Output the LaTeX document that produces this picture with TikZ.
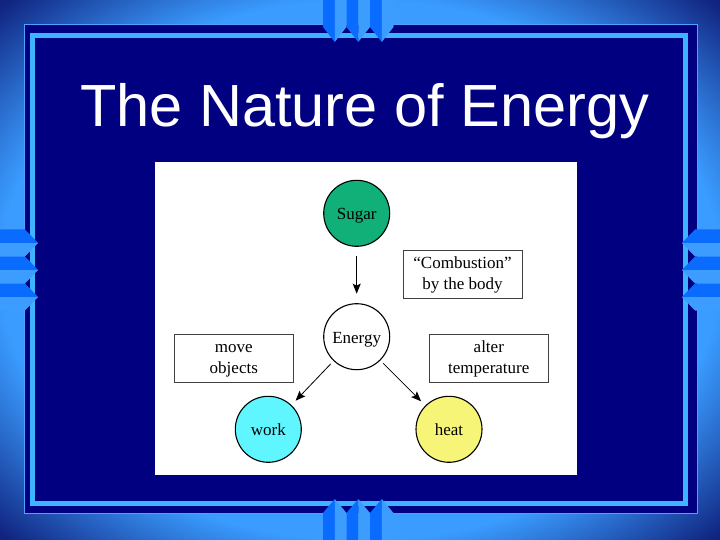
\documentclass[tikz,border=0pt]{standalone}
\usepackage{fontspec}
\setmainfont{Liberation Serif}
\newfontfamily\titlefont{Liberation Sans}
\usepackage{tikz}
\usetikzlibrary{arrows.meta}

\definecolor{bgLight}{RGB}{58,156,255}
\definecolor{bgDark}{RGB}{16,35,127}
\definecolor{navy}{RGB}{0,0,128}
\definecolor{rimLight}{RGB}{80,160,255}
\definecolor{rimCyan}{RGB}{60,180,255}
\definecolor{stripDark}{RGB}{10,108,255}
\definecolor{stripLight}{RGB}{61,157,255}
\definecolor{sugarGreen}{RGB}{16,176,120}
\definecolor{workCyan}{RGB}{96,246,255}
\definecolor{heatYellow}{RGB}{247,245,120}
\pgfdeclareradialshading{slidebg}{\pgfpoint{0bp}{0bp}}{color(0bp)=(bgLight); color(25bp)=(bgLight); color(35bp)=(bgDark); color(50bp)=(bgDark)}
\newcommand{\tstrut}{\rule{0pt}{13pt}}

\begin{document}
\begin{tikzpicture}[x=1pt,y=-1pt,
  circ/.style={circle,draw,line width=1.1pt,minimum size=66pt,inner sep=0pt,
    text height=13pt,text depth=0pt,font=\fontsize{17}{21}\selectfont},
  box/.style={draw=black!75,line width=0.9pt,align=center,minimum width=119pt,
    minimum height=48pt,inner sep=2pt,font=\fontsize{17}{21}\selectfont},
  arr/.style={-{Stealth[length=10pt,width=8pt,inset=2pt]},line width=0.8pt}]
\useasboundingbox (0,0) rectangle (720,540);
% slide frame
\shade[shading=slidebg] (0,0) rectangle (720,540);
\filldraw[fill=navy,draw=rimLight,line width=1pt] (24,25) rectangle (697,513);
\draw[rimCyan,line width=4.5pt] (32.5,35.5) rectangle (685.5,503.5);
\foreach \sx in {323,346.5,370} {
  \fill[stripDark] (\sx,0) -- ({\sx+11.75},0) -- ({\sx+11.75},42) -- (\sx,27) -- cycle;
  \fill[stripLight] ({\sx+11.75},0) -- ({\sx+23.5},0) -- ({\sx+23.5},27) -- ({\sx+11.75},42) -- cycle;
  \fill[stripDark] (\sx,540) -- ({\sx+11.75},540) -- ({\sx+11.75},499) -- (\sx,513) -- cycle;
  \fill[stripLight] ({\sx+11.75},540) -- ({\sx+23.5},540) -- ({\sx+23.5},513) -- ({\sx+11.75},499) -- cycle;
}
\foreach \sy in {229.5,256.5,283.5} {
  \fill[stripDark] (0,\sy) -- (25,\sy) -- (38,{\sy+13.5}) -- (0,{\sy+13.5}) -- cycle;
  \fill[stripLight] (0,{\sy+13.5}) -- (38,{\sy+13.5}) -- (25,{\sy+27}) -- (0,{\sy+27}) -- cycle;
  \fill[stripDark] (720,\sy) -- (695,\sy) -- (682,{\sy+13.5}) -- (720,{\sy+13.5}) -- cycle;
  \fill[stripLight] (720,{\sy+13.5}) -- (682,{\sy+13.5}) -- (695,{\sy+27}) -- (720,{\sy+27}) -- cycle;
}
\node[anchor=base west,inner sep=0pt,text=white,font=\titlefont\fontsize{59.5}{70}\selectfont]
  (T) at (80,127) {The Nature of Energy};
% diagram panel
\fill[white] (155,162) rectangle (577,475);
\node[circ,fill=sugarGreen] (S) at (356.7,213.3) {Sugar};
\node[circ,fill=white] (E) at (356.7,336.7) {Energy};
\node[circ,fill=workCyan] (W) at (268.3,429.3) {work};
\node[circ,fill=heatYellow] (H) at (449,429.3) {heat};
\node[box] (C) at (462.5,274.7) {\tstrut“Combustion”\\ by the body};
\node[box] (M) at (233.8,358.3) {\tstrut move\\ objects};
\node[box] (A) at (488.8,358.3) {\tstrut alter\\ temperature};
\draw[arr,line width=1.1pt,shorten <=9.5pt,shorten >=9.5pt] (S) -- (E);
\draw[arr,shorten <=4pt,shorten >=6pt] (E) -- (W);
\draw[arr,shorten <=4pt,shorten >=6pt] (E) -- (H);
\end{tikzpicture}
\end{document}
